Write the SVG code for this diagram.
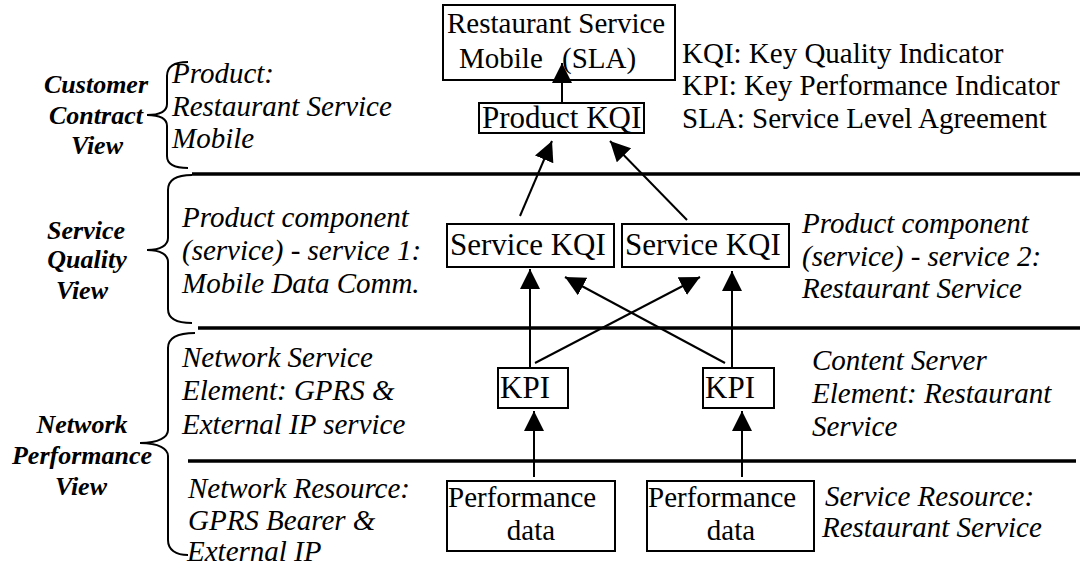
<svg xmlns="http://www.w3.org/2000/svg" width="1080" height="569" viewBox="0 0 1080 569">
  <style>
    text { font-family: "Liberation Serif", "Times New Roman", serif; fill: #000; }
    .lbl { font-size: 29px; }
    .big { font-size: 31px; }
    .note { font-size: 29px; font-style: italic; }
    .view { font-size: 26px; font-style: italic; font-weight: bold; text-anchor: middle; }
    .box { fill: #fff; stroke: #000; stroke-width: 2; }
    .tier { stroke: #000; stroke-width: 3.5; fill: none; }
    .brace { stroke: #000; stroke-width: 2; fill: none; }
    .conn { stroke: #000; stroke-width: 2; fill: none; marker-end: url(#arrow); }
  </style>
  <defs>
    <marker id="arrow" markerUnits="userSpaceOnUse" markerWidth="22" markerHeight="22" refX="20" refY="10" orient="auto">
      <path d="M0,0 L20,10 L0,20 Z" fill="#000"/>
    </marker>
  </defs>

  <rect x="0" y="0" width="1080" height="569" fill="#fff"/>

  <!-- tier separators -->
  <g id="tiers">
    <line class="tier" x1="192" y1="174" x2="1080" y2="174"/>
    <line class="tier" x1="198" y1="328" x2="1080" y2="328"/>
    <line class="tier" x1="188" y1="461" x2="1076" y2="461"/>
  </g>

  <!-- view braces and labels -->
  <g id="view-customer">
    <path class="brace" d="M188,62 C174,62 167,66 167,76 L167,104 C167,111 160,115 147,115 C160,115 167,119 167,126 L167,156 C167,164 174,168 188,168"/>
    <text class="view" x="96" y="93">Customer</text>
    <text class="view" x="96" y="124">Contract</text>
    <text class="view" x="97" y="154">View</text>
  </g>
  <g id="view-service">
    <path class="brace" d="M192,175 C176,175 168,180 168,190 L168,238 C168,245 161,250 147,250 C161,250 168,255 168,262 L168,309 C168,318 176,323 192,323"/>
    <text class="view" x="86" y="239">Service</text>
    <text class="view" x="87" y="268">Quality</text>
    <text class="view" x="82" y="299">View</text>
  </g>
  <g id="view-network">
    <path class="brace" d="M195,333 C177,333 168,338 168,348 L168,430 C168,437 159,443 140,443 C159,443 168,449 168,456 L168,540 C168,550 176,555 188,555"/>
    <text class="view" x="82" y="433">Network</text>
    <text class="view" x="82" y="464">Performance</text>
    <text class="view" x="81" y="495">View</text>
  </g>

  <!-- descriptive notes -->
  <g id="note-product">
    <text class="note" x="172" y="83">Product:</text>
    <text class="note" x="172" y="116">Restaurant Service</text>
    <text class="note" x="172" y="148">Mobile</text>
  </g>
  <g id="note-service-1">
    <text class="note" x="182" y="227">Product component</text>
    <text class="note" x="182" y="260">(service) - service 1:</text>
    <text class="note" x="182" y="293">Mobile Data Comm.</text>
  </g>
  <g id="note-service-2">
    <text class="note" x="802" y="233">Product component</text>
    <text class="note" x="802" y="266">(service) - service 2:</text>
    <text class="note" x="802" y="298">Restaurant Service</text>
  </g>
  <g id="note-network-element">
    <text class="note" x="182" y="367">Network Service</text>
    <text class="note" x="182" y="400">Element: GPRS &amp;</text>
    <text class="note" x="182" y="434">External IP service</text>
  </g>
  <g id="note-content-element">
    <text class="note" x="812" y="370">Content Server</text>
    <text class="note" x="812" y="403">Element: Restaurant</text>
    <text class="note" x="812" y="436">Service</text>
  </g>
  <g id="note-network-resource">
    <text class="note" x="188" y="498">Network Resource:</text>
    <text class="note" x="188" y="530">GPRS Bearer &amp;</text>
    <text class="note" x="187" y="561">External IP</text>
  </g>
  <g id="note-service-resource">
    <text class="note" x="825" y="506">Service Resource:</text>
    <text class="note" x="822" y="537">Restaurant Service</text>
  </g>

  <!-- legend -->
  <g id="legend">
    <text class="lbl" x="682" y="63">KQI: Key Quality Indicator</text>
    <text class="lbl" x="682" y="95">KPI: Key Performance Indicator</text>
    <text class="lbl" x="682" y="128">SLA: Service Level Agreement</text>
  </g>

  <!-- nodes -->
  <g id="sla">
    <rect class="box" x="443" y="5" width="232" height="75"/>
    <text class="lbl" x="447" y="33">Restaurant Service</text>
    <text class="lbl" x="459" y="68" word-spacing="12">Mobile (SLA)</text>
  </g>
  <g id="product-kqi">
    <rect class="box" x="479" y="103" width="165" height="30"/>
    <text class="big" x="482" y="128">Product KQI</text>
  </g>
  <g id="service-kqi-1">
    <rect class="box" x="447" y="224" width="167" height="43"/>
    <text class="big" x="450" y="255">Service KQI</text>
  </g>
  <g id="service-kqi-2">
    <rect class="box" x="622" y="224" width="167" height="43"/>
    <text class="big" x="625" y="255">Service KQI</text>
  </g>
  <g id="kpi-1">
    <rect class="box" x="498" y="368" width="70" height="40"/>
    <text class="big" x="500" y="398">KPI</text>
  </g>
  <g id="kpi-2">
    <rect class="box" x="703" y="368" width="71" height="40"/>
    <text class="big" x="705" y="398">KPI</text>
  </g>
  <g id="perf-data-1">
    <rect class="box" x="447" y="481" width="168" height="70"/>
    <text class="lbl" x="448" y="507">Performance</text>
    <text class="lbl" x="531" y="540" text-anchor="middle">data</text>
  </g>
  <g id="perf-data-2">
    <rect class="box" x="647" y="481" width="167" height="70"/>
    <text class="lbl" x="648" y="507">Performance</text>
    <text class="lbl" x="731" y="540" text-anchor="middle">data</text>
  </g>

  <!-- connectors -->
  <g id="connectors">
    <line class="conn" x1="562" y1="103" x2="562" y2="63"/>
    <line class="conn" x1="520" y1="216" x2="552" y2="141"/>
    <line class="conn" x1="687" y1="220" x2="610" y2="141"/>
    <line class="conn" x1="530" y1="368" x2="530" y2="269"/>
    <line class="conn" x1="732" y1="368" x2="732" y2="271"/>
    <line class="conn" x1="535" y1="363" x2="700" y2="277"/>
    <line class="conn" x1="725" y1="363" x2="565" y2="277"/>
    <line class="conn" x1="534" y1="477" x2="534" y2="411"/>
    <line class="conn" x1="742" y1="477" x2="742" y2="411"/>
  </g>
</svg>
